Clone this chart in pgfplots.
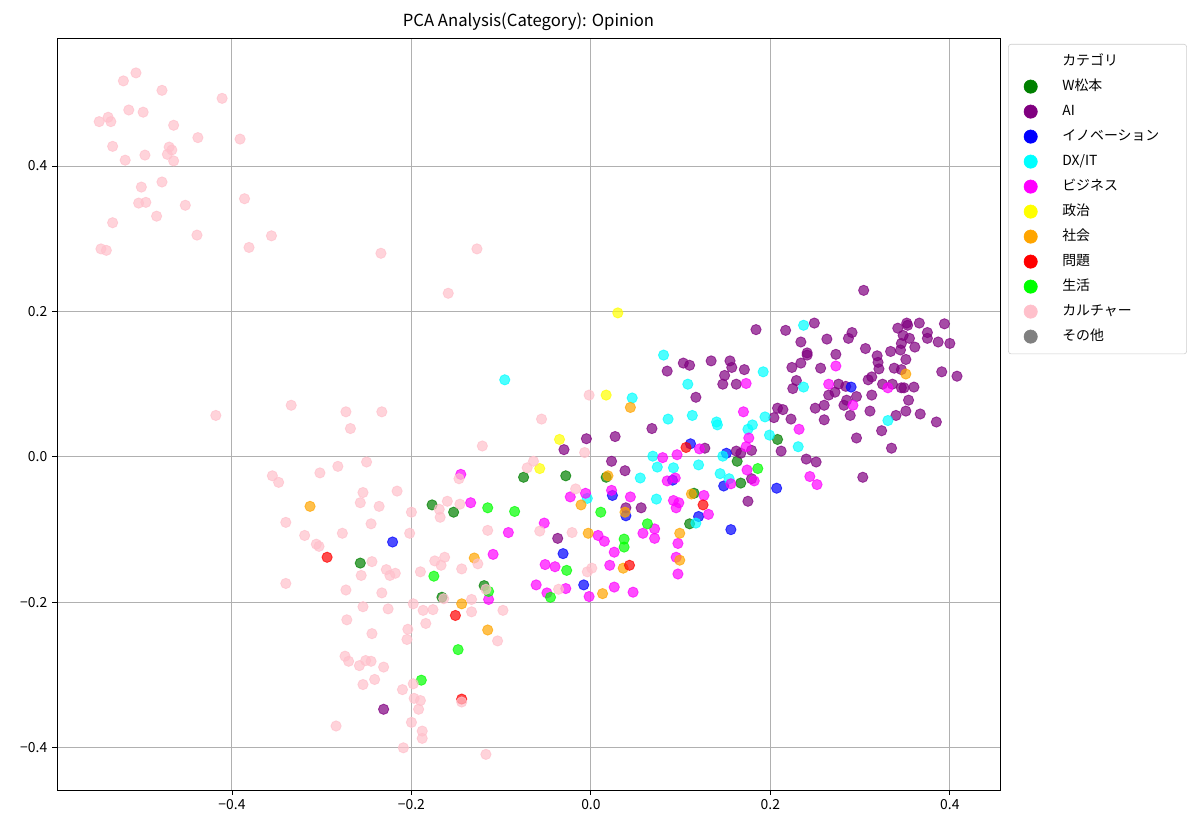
\documentclass[border=0pt]{standalone}
\usepackage{pgfplots}
\pgfplotsset{compat=1.18}
\usepackage{fontspec}
\setmainfont{Noto Sans CJK JP}
\definecolor{cGreen}{HTML}{008000}
\definecolor{cPurple}{HTML}{800080}
\definecolor{cBlue}{HTML}{0000FF}
\definecolor{cCyan}{HTML}{00FFFF}
\definecolor{cMagenta}{HTML}{FF00FF}
\definecolor{cYellow}{HTML}{FFFF00}
\definecolor{cOrange}{HTML}{FFA500}
\definecolor{cRed}{HTML}{FF0000}
\definecolor{cLime}{HTML}{00FF00}
\definecolor{cPink}{HTML}{FFC0CB}
\definecolor{cGray}{HTML}{808080}
\definecolor{cGrid}{HTML}{B0B0B0}
\definecolor{cLegend}{HTML}{CCCCCC}
\pgfplotsset{
  pt/.style={only marks, mark=*, mark size=3.7pt, forget plot,
    mark options={line width=0.6pt, draw=#1, fill=#1, fill opacity=0.7, draw opacity=0.7}},
  lg/.style={only marks, mark=*, mark size=4.8pt, mark options={draw=#1, fill=#1}},
}
\newcommand{\legtxt}[1]{\makebox[80pt][l]{#1}}
\begin{document}
\begin{tikzpicture}
\useasboundingbox (-41.04pt,-28.08pt) rectangle (822.96pt,568.8pt);
\begin{axis}[
  scale only axis, width=679pt, height=541.44pt,
  xmin=-0.595, xmax=0.456, ymin=-0.458, ymax=0.576,
  xtick={-0.4,-0.2,0,0.2,0.4}, xticklabels={−0.4,−0.2,0.0,0.2,0.4},
  ytick={-0.4,-0.2,0,0.2,0.4}, yticklabels={−0.4,−0.2,0.0,0.2,0.4},
  xtick pos=bottom, ytick pos=left, tick align=outside,
  major tick length=3.5pt,
  tick style={black, line width=0.6pt},
  axis line style={line width=0.6pt},
  grid=major, major grid style={cGrid, line width=0.7pt},
  ticklabel style={font=\fontsize{10}{12}\selectfont},
  title={PCA Analysis(Category): Opinion},
  title style={at={(0.5,1)}, anchor=base, yshift=2pt, inner sep=0pt, font=\fontsize{12}{14}\selectfont},
  legend style={at={(1,1)}, anchor=north west, xshift=5.8pt, yshift=-4.3pt,
    draw=cLegend, rounded corners=2pt, font=\fontsize{10}{12}\selectfont,
    row sep=4pt, column sep=16pt, inner xsep=7.5pt, inner ysep=5.5pt,
    nodes={inner sep=2pt, text height=8pt, text depth=2pt}},
  legend cell align=left,
]
\addlegendimage{empty legend}\addlegendentry{\legtxt{カテゴリ}}
\addlegendimage{lg=cGreen}\addlegendentry{\legtxt{W松本}}
\addlegendimage{lg=cPurple}\addlegendentry{\legtxt{AI}}
\addlegendimage{lg=cBlue}\addlegendentry{\legtxt{イノベーション}}
\addlegendimage{lg=cCyan}\addlegendentry{\legtxt{DX/IT}}
\addlegendimage{lg=cMagenta}\addlegendentry{\legtxt{ビジネス}}
\addlegendimage{lg=cYellow}\addlegendentry{\legtxt{政治}}
\addlegendimage{lg=cOrange}\addlegendentry{\legtxt{社会}}
\addlegendimage{lg=cRed}\addlegendentry{\legtxt{問題}}
\addlegendimage{lg=cLime}\addlegendentry{\legtxt{生活}}
\addlegendimage{lg=cPink}\addlegendentry{\legtxt{カルチャー}}
\addlegendimage{lg=cGray}\addlegendentry{\legtxt{その他}}

% W松本
\addplot[pt=cGreen] table {
-0.257 -0.146
-0.177 -0.066
-0.153 -0.076
-0.119 -0.177
-0.166 -0.193
-0.075 -0.028
-0.028 -0.026
0.017 -0.028
0.115 -0.050
0.110 -0.092
0.163 -0.006
0.167 -0.036
0.208 0.024
};
% AI
\addplot[pt=cPurple] table {
0.304 0.229
0.249 0.184
0.184 0.175
0.217 0.174
0.342 0.177
0.352 0.184
0.353 0.181
0.366 0.184
0.394 0.183
0.375 0.171
0.375 0.163
0.291 0.171
0.287 0.163
0.263 0.162
0.234 0.158
0.348 0.167
0.355 0.163
0.346 0.156
0.387 0.158
0.400 0.156
0.361 0.151
0.306 0.149
0.334 0.145
0.345 0.147
0.241 0.143
0.241 0.140
0.273 0.141
0.319 0.139
0.320 0.130
0.321 0.121
0.351 0.134
0.234 0.129
0.224 0.123
0.134 0.132
0.155 0.132
0.157 0.123
0.171 0.120
0.149 0.112
0.147 0.100
0.162 0.100
0.256 0.122
0.338 0.122
0.346 0.120
0.391 0.117
0.408 0.111
0.229 0.105
0.225 0.094
0.276 0.100
0.284 0.097
0.309 0.106
0.313 0.110
0.325 0.100
0.336 0.100
0.346 0.095
0.349 0.095
0.360 0.096
0.265 0.085
0.272 0.089
0.296 0.083
0.313 0.085
0.354 0.078
0.285 0.078
0.282 0.071
0.260 0.071
0.250 0.067
0.208 0.067
0.214 0.065
0.289 0.057
0.311 0.063
0.340 0.057
0.351 0.063
0.367 0.059
0.385 0.048
0.324 0.036
0.260 0.051
0.223 0.052
0.204 0.054
0.296 0.026
0.335 0.012
0.212 0.008
0.162 0.008
0.167 0.005
0.179 0.009
0.240 -0.003
0.251 -0.007
0.303 -0.028
0.179 -0.030
0.175 -0.061
0.103 0.129
0.110 0.126
0.085 0.118
0.117 0.082
0.068 0.039
0.027 0.028
-0.005 0.025
-0.030 0.010
0.127 0.012
0.023 -0.006
0.038 -0.019
0.039 -0.070
0.056 -0.070
-0.037 -0.112
-0.231 -0.347
};
% イノベーション
\addplot[pt=cBlue] table {
-0.221 -0.117
-0.031 -0.133
-0.008 -0.176
0.024 -0.053
0.039 -0.081
0.091 -0.032
0.111 0.018
0.120 -0.082
0.148 -0.040
0.151 0.005
0.156 -0.100
0.207 -0.043
0.290 0.096
};
% DX/IT
\addplot[pt=cCyan] table {
-0.096 0.106
0.081 0.140
0.108 0.100
0.046 0.081
0.086 0.052
0.113 0.057
0.140 0.048
0.141 0.044
0.069 0.001
0.074 -0.014
0.092 -0.015
0.120 -0.011
0.055 -0.029
0.073 -0.058
0.117 -0.091
0.147 0.001
0.144 -0.023
0.154 -0.030
0.194 0.055
0.180 0.044
0.175 0.038
0.199 0.030
0.231 0.014
0.192 0.117
0.237 0.181
0.237 0.096
0.331 0.050
-0.004 -0.057
};
% ビジネス
\addplot[pt=cMagenta] table {
-0.145 -0.024
-0.134 -0.063
-0.109 -0.134
-0.092 -0.104
-0.114 -0.196
-0.023 -0.055
-0.006 -0.050
0.023 -0.046
0.044 -0.055
0.092 -0.060
0.098 -0.063
0.095 -0.070
0.126 -0.053
0.131 -0.079
0.071 -0.099
0.071 -0.112
0.058 -0.105
0.097 -0.119
-0.052 -0.091
0.008 -0.108
0.015 -0.116
0.026 -0.131
-0.051 -0.148
-0.040 -0.151
0.021 -0.149
0.095 -0.138
0.097 -0.161
-0.061 -0.176
-0.049 -0.187
-0.028 -0.181
-0.002 -0.192
0.026 -0.179
0.047 -0.186
0.085 -0.033
0.094 -0.029
0.080 -0.001
0.096 0.003
0.121 0.011
0.170 0.062
0.176 0.026
0.173 0.014
0.174 -0.018
0.182 -0.033
0.156 -0.037
0.244 -0.027
0.252 -0.038
0.232 0.038
0.173 0.101
0.273 0.125
0.265 0.100
0.331 0.095
0.292 0.071
};
% 政治
\addplot[pt=cYellow] table {
0.030 0.198
0.017 0.085
-0.035 0.024
-0.057 -0.016
};
% 社会
\addplot[pt=cOrange] table {
-0.313 -0.068
-0.130 -0.139
-0.144 -0.202
-0.115 -0.238
-0.011 -0.066
-0.003 -0.105
0.019 -0.026
0.036 -0.153
0.013 -0.188
0.044 0.068
0.099 -0.105
0.099 -0.142
0.112 -0.051
0.038 -0.076
0.351 0.114
};
% 問題
\addplot[pt=cRed] table {
-0.294 -0.138
-0.151 -0.218
-0.144 -0.333
0.043 -0.149
0.106 0.013
0.125 -0.066
};
% 生活
\addplot[pt=cLime] table {
-0.175 -0.164
-0.115 -0.070
-0.085 -0.075
-0.114 -0.185
-0.148 -0.265
-0.189 -0.307
0.011 -0.076
0.037 -0.113
0.037 -0.124
-0.027 -0.156
-0.045 -0.193
0.063 -0.092
0.186 -0.016
};
% カルチャー
\addplot[pt=cPink] table {
-0.507 0.528
-0.521 0.517
-0.478 0.504
-0.411 0.493
-0.515 0.477
-0.499 0.474
-0.538 0.467
-0.548 0.461
-0.535 0.461
-0.465 0.456
-0.438 0.439
-0.391 0.437
-0.533 0.427
-0.470 0.426
-0.467 0.422
-0.472 0.416
-0.465 0.407
-0.497 0.415
-0.519 0.408
-0.478 0.378
-0.501 0.371
-0.504 0.349
-0.496 0.350
-0.452 0.346
-0.484 0.331
-0.533 0.322
-0.439 0.305
-0.546 0.286
-0.540 0.284
-0.386 0.355
-0.356 0.304
-0.381 0.288
-0.234 0.280
-0.127 0.286
-0.159 0.225
-0.418 0.057
-0.334 0.071
-0.273 0.062
-0.233 0.062
-0.268 0.039
-0.121 0.015
-0.055 0.052
-0.002 0.085
-0.007 0.006
-0.064 -0.006
-0.071 -0.015
-0.017 -0.044
-0.057 -0.102
-0.021 -0.104
-0.004 -0.158
0.001 -0.153
-0.036 -0.182
-0.098 -0.211
-0.117 -0.409
-0.250 -0.007
-0.282 -0.013
-0.302 -0.022
-0.355 -0.026
-0.348 -0.035
-0.147 -0.030
-0.216 -0.047
-0.254 -0.049
-0.257 -0.063
-0.236 -0.068
-0.160 -0.061
-0.146 -0.065
-0.169 -0.072
-0.200 -0.076
-0.168 -0.083
-0.340 -0.090
-0.245 -0.092
-0.115 -0.101
-0.319 -0.108
-0.277 -0.105
-0.202 -0.105
-0.306 -0.120
-0.303 -0.123
-0.244 -0.144
-0.174 -0.143
-0.163 -0.138
-0.167 -0.149
-0.126 -0.147
-0.144 -0.154
-0.228 -0.155
-0.224 -0.163
-0.218 -0.160
-0.256 -0.163
-0.190 -0.158
-0.340 -0.174
-0.273 -0.183
-0.233 -0.187
-0.117 -0.182
-0.164 -0.195
-0.133 -0.196
-0.254 -0.206
-0.226 -0.209
-0.198 -0.202
-0.187 -0.211
-0.176 -0.210
-0.133 -0.213
-0.272 -0.224
-0.184 -0.229
-0.104 -0.253
-0.244 -0.243
-0.204 -0.237
-0.205 -0.251
-0.274 -0.274
-0.270 -0.281
-0.258 -0.287
-0.251 -0.280
-0.245 -0.281
-0.231 -0.289
-0.254 -0.313
-0.241 -0.306
-0.198 -0.312
-0.210 -0.320
-0.197 -0.332
-0.190 -0.335
-0.192 -0.347
-0.144 -0.337
-0.284 -0.370
-0.200 -0.365
-0.188 -0.377
-0.188 -0.387
-0.209 -0.400
};
\end{axis}
\end{tikzpicture}
\end{document}
